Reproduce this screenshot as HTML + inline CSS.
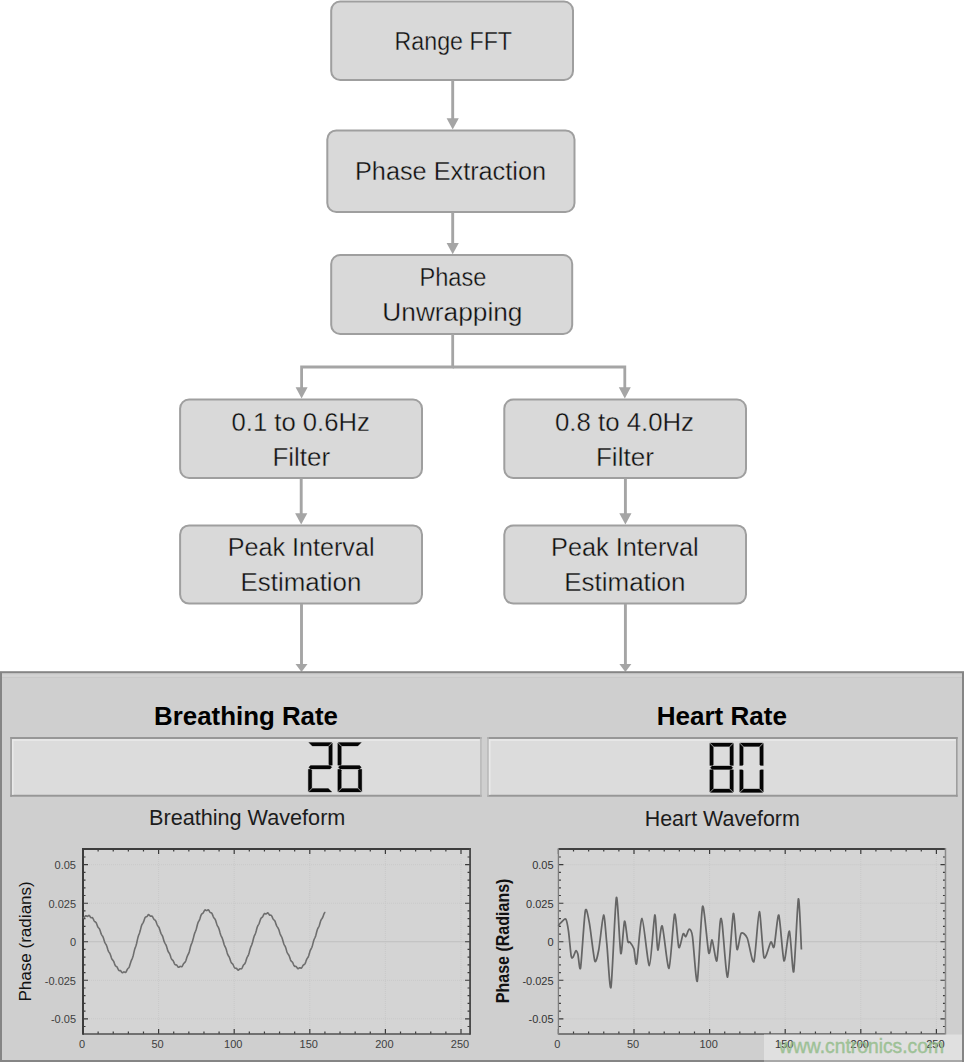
<!DOCTYPE html>
<html><head><meta charset="utf-8"><style>
html,body{margin:0;padding:0;background:#fff;width:964px;height:1062px;overflow:hidden}
svg{display:block;font-family:"Liberation Sans", sans-serif}
</style></head><body>
<svg width="964" height="1062" viewBox="0 0 964 1062">
<rect x="331.2" y="1.5" width="241.8" height="78.5" rx="9" ry="9" fill="#d9d9d9" stroke="#9f9f9f" stroke-width="2"/>
<text x="453.3" y="49.7" font-size="25" font-weight="normal" fill="#111" text-anchor="middle" textLength="117.4" lengthAdjust="spacingAndGlyphs" stroke="#d9d9d9" stroke-width="0.35">Range FFT</text>
<line x1="452.7" y1="80.5" x2="452.7" y2="119.3" stroke="#a5a5a5" stroke-width="2.9"/>
<polygon points="446.59999999999997,118.3 458.8,118.3 452.7,129.5" fill="#a5a5a5"/>
<rect x="327.3" y="130.4" width="247.2" height="81.6" rx="9" ry="9" fill="#d9d9d9" stroke="#9f9f9f" stroke-width="2"/>
<text x="450.5" y="180" font-size="25" font-weight="normal" fill="#111" text-anchor="middle" textLength="191" lengthAdjust="spacingAndGlyphs" stroke="#d9d9d9" stroke-width="0.35">Phase Extraction</text>
<line x1="452.7" y1="212.5" x2="452.7" y2="244.0" stroke="#a5a5a5" stroke-width="2.9"/>
<polygon points="446.59999999999997,243.0 458.8,243.0 452.7,254.2" fill="#a5a5a5"/>
<rect x="331.2" y="255" width="241.00000000000006" height="79" rx="9" ry="9" fill="#d9d9d9" stroke="#9f9f9f" stroke-width="2"/>
<text x="452.9" y="286" font-size="25" font-weight="normal" fill="#111" text-anchor="middle" textLength="67" lengthAdjust="spacingAndGlyphs" stroke="#d9d9d9" stroke-width="0.35">Phase</text>
<text x="452.4" y="320.6" font-size="25" font-weight="normal" fill="#111" text-anchor="middle" textLength="140.2" lengthAdjust="spacingAndGlyphs" stroke="#d9d9d9" stroke-width="0.35">Unwrapping</text>
<polyline points="452.7,334 452.7,367 301.6,367 301.6,388" fill="none" stroke="#a5a5a5" stroke-width="2.8"/>
<polyline points="452.7,367 624.8,367 624.8,388" fill="none" stroke="#a5a5a5" stroke-width="2.8"/>
<polygon points="295.6,387.2 307.6,387.2 301.6,398.6" fill="#a5a5a5"/>
<polygon points="618.8,387.2 630.8,387.2 624.8,398.6" fill="#a5a5a5"/>
<rect x="180.1" y="399.5" width="241.9" height="78.5" rx="9" ry="9" fill="#d9d9d9" stroke="#9f9f9f" stroke-width="2"/>
<text x="300.7" y="431.2" font-size="25" font-weight="normal" fill="#111" text-anchor="middle" textLength="138.4" lengthAdjust="spacingAndGlyphs" stroke="#d9d9d9" stroke-width="0.35">0.1 to 0.6Hz</text>
<text x="301.3" y="465.6" font-size="25" font-weight="normal" fill="#111" text-anchor="middle" textLength="57.7" lengthAdjust="spacingAndGlyphs" stroke="#d9d9d9" stroke-width="0.35">Filter</text>
<rect x="504.3" y="399.5" width="241.7" height="78.5" rx="9" ry="9" fill="#d9d9d9" stroke="#9f9f9f" stroke-width="2"/>
<text x="624.5" y="431.2" font-size="25" font-weight="normal" fill="#111" text-anchor="middle" textLength="139" lengthAdjust="spacingAndGlyphs" stroke="#d9d9d9" stroke-width="0.35">0.8 to 4.0Hz</text>
<text x="624.9" y="465.6" font-size="25" font-weight="normal" fill="#111" text-anchor="middle" textLength="58" lengthAdjust="spacingAndGlyphs" stroke="#d9d9d9" stroke-width="0.35">Filter</text>
<line x1="301.2" y1="478.5" x2="301.2" y2="514.1999999999999" stroke="#a5a5a5" stroke-width="2.9"/>
<polygon points="295.09999999999997,513.1999999999999 307.3,513.1999999999999 301.2,524.4" fill="#a5a5a5"/>
<line x1="625.4" y1="478.5" x2="625.4" y2="514.1999999999999" stroke="#a5a5a5" stroke-width="2.9"/>
<polygon points="619.3,513.1999999999999 631.5,513.1999999999999 625.4,524.4" fill="#a5a5a5"/>
<rect x="180.1" y="525.4" width="241.9" height="78.20000000000005" rx="9" ry="9" fill="#d9d9d9" stroke="#9f9f9f" stroke-width="2"/>
<text x="301.1" y="555.9" font-size="25" font-weight="normal" fill="#111" text-anchor="middle" textLength="146.9" lengthAdjust="spacingAndGlyphs" stroke="#d9d9d9" stroke-width="0.35">Peak Interval</text>
<text x="301" y="590.6" font-size="25" font-weight="normal" fill="#111" text-anchor="middle" textLength="120.8" lengthAdjust="spacingAndGlyphs" stroke="#d9d9d9" stroke-width="0.35">Estimation</text>
<rect x="504.3" y="525.4" width="241.7" height="78.20000000000005" rx="9" ry="9" fill="#d9d9d9" stroke="#9f9f9f" stroke-width="2"/>
<text x="624.85" y="555.9" font-size="25" font-weight="normal" fill="#111" text-anchor="middle" textLength="147.7" lengthAdjust="spacingAndGlyphs" stroke="#d9d9d9" stroke-width="0.35">Peak Interval</text>
<text x="624.85" y="590.6" font-size="25" font-weight="normal" fill="#111" text-anchor="middle" textLength="121.3" lengthAdjust="spacingAndGlyphs" stroke="#d9d9d9" stroke-width="0.35">Estimation</text>
<line x1="301.5" y1="604" x2="301.5" y2="665" stroke="#a5a5a5" stroke-width="2.9"/>
<polygon points="295.5,664 307.5,664 301.5,672" fill="#a5a5a5"/>
<line x1="625.4" y1="604" x2="625.4" y2="665" stroke="#a5a5a5" stroke-width="2.9"/>
<polygon points="619.4,664 631.4,664 625.4,672" fill="#a5a5a5"/>
<rect x="1" y="672.2" width="962" height="388.8" fill="#cfcfcf" stroke="#858585" stroke-width="2"/>
<line x1="2" y1="676" x2="962" y2="676" stroke="#d6d6d6" stroke-width="1"/>
<line x1="2" y1="677.5" x2="962" y2="677.5" stroke="#c8c8c8" stroke-width="1"/>
<text x="246" y="724.8" font-size="26" font-weight="bold" fill="#000" text-anchor="middle" textLength="184" lengthAdjust="spacingAndGlyphs">Breathing Rate</text>
<text x="721.8" y="724.9" font-size="26" font-weight="bold" fill="#000" text-anchor="middle" textLength="130.3" lengthAdjust="spacingAndGlyphs">Heart Rate</text>
<rect x="10.3" y="737" width="471.4" height="59.700000000000045" fill="#dcdcdc"/>
<line x1="10.3" y1="738" x2="481.7" y2="738" stroke="#979797" stroke-width="2"/>
<line x1="10.3" y1="795.7" x2="481.7" y2="795.7" stroke="#979797" stroke-width="2"/>
<line x1="11.05" y1="737" x2="11.05" y2="796.7" stroke="#979797" stroke-width="1.5"/>
<line x1="480.95" y1="737" x2="480.95" y2="796.7" stroke="#b6b6b6" stroke-width="1.5"/>
<path d="M12.8,794.7 V740 H479.7" fill="none" stroke="#eaeaea" stroke-width="1.5"/>
<rect x="487.2" y="737" width="470.40000000000003" height="59.700000000000045" fill="#dcdcdc"/>
<line x1="487.2" y1="738" x2="957.6" y2="738" stroke="#979797" stroke-width="2"/>
<line x1="487.2" y1="795.7" x2="957.6" y2="795.7" stroke="#979797" stroke-width="2"/>
<line x1="487.95" y1="737" x2="487.95" y2="796.7" stroke="#b6b6b6" stroke-width="1.5"/>
<line x1="956.85" y1="737" x2="956.85" y2="796.7" stroke="#979797" stroke-width="1.5"/>
<path d="M489.7,794.7 V740 H955.6" fill="none" stroke="#eaeaea" stroke-width="1.5"/>
<polygon points="308.80,742.50 331.80,742.50 328.30,746.00 312.30,746.00" fill="#050505" stroke="#050505" stroke-width="0.3" stroke-linejoin="round"/>
<polygon points="312.30,788.50 328.30,788.50 331.80,792.00 308.80,792.00" fill="#050505" stroke="#050505" stroke-width="0.3" stroke-linejoin="round"/>
<polygon points="308.80,767.25 310.55,765.50 330.05,765.50 331.80,767.25 330.05,769.00 310.55,769.00" fill="#050505" stroke="#050505" stroke-width="0.3" stroke-linejoin="round"/>
<polygon points="332.30,743.00 328.80,746.50 328.80,764.35 329.60,765.15 332.30,765.15" fill="#050505" stroke="#050505" stroke-width="0.3" stroke-linejoin="round"/>
<polygon points="308.30,791.50 311.80,788.00 311.80,770.15 311.00,769.35 308.30,769.35" fill="#050505" stroke="#050505" stroke-width="0.3" stroke-linejoin="round"/>
<polygon points="338.30,742.50 361.30,742.50 357.80,746.00 341.80,746.00" fill="#050505" stroke="#050505" stroke-width="0.3" stroke-linejoin="round"/>
<polygon points="341.80,788.50 357.80,788.50 361.30,792.00 338.30,792.00" fill="#050505" stroke="#050505" stroke-width="0.3" stroke-linejoin="round"/>
<polygon points="338.30,767.25 340.05,765.50 359.55,765.50 361.30,767.25 359.55,769.00 340.05,769.00" fill="#050505" stroke="#050505" stroke-width="0.3" stroke-linejoin="round"/>
<polygon points="337.80,743.00 341.30,746.50 341.30,764.35 340.50,765.15 337.80,765.15" fill="#050505" stroke="#050505" stroke-width="0.3" stroke-linejoin="round"/>
<polygon points="337.80,791.50 341.30,788.00 341.30,770.15 340.50,769.35 337.80,769.35" fill="#050505" stroke="#050505" stroke-width="0.3" stroke-linejoin="round"/>
<polygon points="361.80,791.50 358.30,788.00 358.30,770.15 359.10,769.35 361.80,769.35" fill="#050505" stroke="#050505" stroke-width="0.3" stroke-linejoin="round"/>
<polygon points="710.30,742.90 732.90,742.90 729.40,746.40 713.80,746.40" fill="#050505" stroke="#050505" stroke-width="0.3" stroke-linejoin="round"/>
<polygon points="713.80,788.90 729.40,788.90 732.90,792.40 710.30,792.40" fill="#050505" stroke="#050505" stroke-width="0.3" stroke-linejoin="round"/>
<polygon points="710.30,767.65 712.05,765.90 731.15,765.90 732.90,767.65 731.15,769.40 712.05,769.40" fill="#050505" stroke="#050505" stroke-width="0.3" stroke-linejoin="round"/>
<polygon points="709.80,743.40 713.30,746.90 713.30,764.75 712.50,765.55 709.80,765.55" fill="#050505" stroke="#050505" stroke-width="0.3" stroke-linejoin="round"/>
<polygon points="733.40,743.40 729.90,746.90 729.90,764.75 730.70,765.55 733.40,765.55" fill="#050505" stroke="#050505" stroke-width="0.3" stroke-linejoin="round"/>
<polygon points="709.80,791.90 713.30,788.40 713.30,770.55 712.50,769.75 709.80,769.75" fill="#050505" stroke="#050505" stroke-width="0.3" stroke-linejoin="round"/>
<polygon points="733.40,791.90 729.90,788.40 729.90,770.55 730.70,769.75 733.40,769.75" fill="#050505" stroke="#050505" stroke-width="0.3" stroke-linejoin="round"/>
<polygon points="740.20,742.90 762.80,742.90 759.30,746.40 743.70,746.40" fill="#050505" stroke="#050505" stroke-width="0.3" stroke-linejoin="round"/>
<polygon points="743.70,788.90 759.30,788.90 762.80,792.40 740.20,792.40" fill="#050505" stroke="#050505" stroke-width="0.3" stroke-linejoin="round"/>
<polygon points="739.70,743.40 743.20,746.90 743.20,764.75 742.40,765.55 739.70,765.55" fill="#050505" stroke="#050505" stroke-width="0.3" stroke-linejoin="round"/>
<polygon points="763.30,743.40 759.80,746.90 759.80,764.75 760.60,765.55 763.30,765.55" fill="#050505" stroke="#050505" stroke-width="0.3" stroke-linejoin="round"/>
<polygon points="739.70,791.90 743.20,788.40 743.20,770.55 742.40,769.75 739.70,769.75" fill="#050505" stroke="#050505" stroke-width="0.3" stroke-linejoin="round"/>
<polygon points="763.30,791.90 759.80,788.40 759.80,770.55 760.60,769.75 763.30,769.75" fill="#050505" stroke="#050505" stroke-width="0.3" stroke-linejoin="round"/>
<text x="247.2" y="825.1" font-size="21.3" font-weight="normal" fill="#1c1c1c" text-anchor="middle" textLength="196.3" lengthAdjust="spacingAndGlyphs">Breathing Waveform</text>
<text x="722.3" y="825.6" font-size="21.3" font-weight="normal" fill="#1c1c1c" text-anchor="middle" textLength="155.1" lengthAdjust="spacingAndGlyphs">Heart Waveform</text>
<rect x="83" y="849" width="387.07199999999995" height="185" fill="#d4d4d4"/>
<line x1="158.60" y1="849" x2="158.60" y2="1034" stroke="#c9c9c9" stroke-width="1" stroke-dasharray="1,1"/>
<line x1="234.20" y1="849" x2="234.20" y2="1034" stroke="#c9c9c9" stroke-width="1" stroke-dasharray="1,1"/>
<line x1="309.80" y1="849" x2="309.80" y2="1034" stroke="#c9c9c9" stroke-width="1" stroke-dasharray="1,1"/>
<line x1="385.40" y1="849" x2="385.40" y2="1034" stroke="#c9c9c9" stroke-width="1" stroke-dasharray="1,1"/>
<line x1="461.00" y1="849" x2="461.00" y2="1034" stroke="#c9c9c9" stroke-width="1" stroke-dasharray="1,1"/>
<line x1="83" y1="864.70" x2="470.07199999999995" y2="864.70" stroke="#c9c9c9" stroke-width="1" stroke-dasharray="1,1"/>
<line x1="83" y1="903.23" x2="470.07199999999995" y2="903.23" stroke="#c9c9c9" stroke-width="1" stroke-dasharray="1,1"/>
<line x1="83" y1="980.27" x2="470.07199999999995" y2="980.27" stroke="#c9c9c9" stroke-width="1" stroke-dasharray="1,1"/>
<line x1="83" y1="1018.80" x2="470.07199999999995" y2="1018.80" stroke="#c9c9c9" stroke-width="1" stroke-dasharray="1,1"/>
<line x1="83" y1="941.75" x2="470.07199999999995" y2="941.75" stroke="#bfbfbf" stroke-width="1"/>
<path d="M83.00,1034 v-5 M83.00,849 v5 M98.12,1034 v-2.5 M98.12,849 v2.5 M113.24,1034 v-2.5 M113.24,849 v2.5 M128.36,1034 v-2.5 M128.36,849 v2.5 M143.48,1034 v-2.5 M143.48,849 v2.5 M158.60,1034 v-5 M158.60,849 v5 M173.72,1034 v-2.5 M173.72,849 v2.5 M188.84,1034 v-2.5 M188.84,849 v2.5 M203.96,1034 v-2.5 M203.96,849 v2.5 M219.08,1034 v-2.5 M219.08,849 v2.5 M234.20,1034 v-5 M234.20,849 v5 M249.32,1034 v-2.5 M249.32,849 v2.5 M264.44,1034 v-2.5 M264.44,849 v2.5 M279.56,1034 v-2.5 M279.56,849 v2.5 M294.68,1034 v-2.5 M294.68,849 v2.5 M309.80,1034 v-5 M309.80,849 v5 M324.92,1034 v-2.5 M324.92,849 v2.5 M340.04,1034 v-2.5 M340.04,849 v2.5 M355.16,1034 v-2.5 M355.16,849 v2.5 M370.28,1034 v-2.5 M370.28,849 v2.5 M385.40,1034 v-5 M385.40,849 v5 M400.52,1034 v-2.5 M400.52,849 v2.5 M415.64,1034 v-2.5 M415.64,849 v2.5 M430.76,1034 v-2.5 M430.76,849 v2.5 M445.88,1034 v-2.5 M445.88,849 v2.5 M461.00,1034 v-5 M461.00,849 v5 M83,1026.51 h2.5 M470.07199999999995,1026.51 h-2.5 M83,1018.80 h5 M470.07199999999995,1018.80 h-5 M83,1011.10 h2.5 M470.07199999999995,1011.10 h-2.5 M83,1003.39 h2.5 M470.07199999999995,1003.39 h-2.5 M83,995.68 h2.5 M470.07199999999995,995.68 h-2.5 M83,987.98 h2.5 M470.07199999999995,987.98 h-2.5 M83,980.27 h5 M470.07199999999995,980.27 h-5 M83,972.57 h2.5 M470.07199999999995,972.57 h-2.5 M83,964.87 h2.5 M470.07199999999995,964.87 h-2.5 M83,957.16 h2.5 M470.07199999999995,957.16 h-2.5 M83,949.46 h2.5 M470.07199999999995,949.46 h-2.5 M83,941.75 h5 M470.07199999999995,941.75 h-5 M83,934.04 h2.5 M470.07199999999995,934.04 h-2.5 M83,926.34 h2.5 M470.07199999999995,926.34 h-2.5 M83,918.63 h2.5 M470.07199999999995,918.63 h-2.5 M83,910.93 h2.5 M470.07199999999995,910.93 h-2.5 M83,903.23 h5 M470.07199999999995,903.23 h-5 M83,895.52 h2.5 M470.07199999999995,895.52 h-2.5 M83,887.82 h2.5 M470.07199999999995,887.82 h-2.5 M83,880.11 h2.5 M470.07199999999995,880.11 h-2.5 M83,872.40 h2.5 M470.07199999999995,872.40 h-2.5 M83,864.70 h5 M470.07199999999995,864.70 h-5 M83,857.00 h2.5 M470.07199999999995,857.00 h-2.5" stroke="#3a3a3a" stroke-width="1.2" fill="none"/>
<line x1="83" y1="849" x2="470.07199999999995" y2="849" stroke="#3c3c3c" stroke-width="2"/>
<line x1="83" y1="1034" x2="470.07199999999995" y2="1034" stroke="#505050" stroke-width="1.6"/>
<line x1="83" y1="848" x2="83" y2="1034.75" stroke="#3c3c3c" stroke-width="2"/>
<line x1="470.07199999999995" y1="848" x2="470.07199999999995" y2="1034.75" stroke="#474747" stroke-width="1.8"/>
<text x="76" y="869.00" font-size="11" fill="#404040" text-anchor="end">0.05</text>
<text x="76" y="907.52" font-size="11" fill="#404040" text-anchor="end">0.025</text>
<text x="76" y="946.05" font-size="11" fill="#404040" text-anchor="end">0</text>
<text x="76" y="984.57" font-size="11" fill="#404040" text-anchor="end">-0.025</text>
<text x="76" y="1023.10" font-size="11" fill="#404040" text-anchor="end">-0.05</text>
<text x="82.00" y="1048.4" font-size="11" fill="#404040" text-anchor="middle">0</text>
<text x="157.60" y="1048.4" font-size="11" fill="#404040" text-anchor="middle">50</text>
<text x="233.20" y="1048.4" font-size="11" fill="#404040" text-anchor="middle">100</text>
<text x="308.80" y="1048.4" font-size="11" fill="#404040" text-anchor="middle">150</text>
<text x="384.40" y="1048.4" font-size="11" fill="#404040" text-anchor="middle">200</text>
<text x="460.00" y="1048.4" font-size="11" fill="#404040" text-anchor="middle">250</text>
<text transform="translate(31,941.4) rotate(-90)" x="0" y="0" font-size="16.5" font-weight="normal" fill="#111" text-anchor="middle" textLength="120.4" lengthAdjust="spacingAndGlyphs">Phase (radians)</text>
<polyline points="83.0,917.3 83.5,917.7 84.0,917.7 84.5,917.2 85.0,916.4 85.5,915.8 86.0,915.7 86.5,916.0 87.0,916.3 87.5,916.4 88.0,916.1 88.5,915.6 89.0,915.4 89.5,915.8 90.0,916.5 90.5,917.2 91.0,917.7 91.5,917.7 92.0,917.6 92.5,917.8 93.0,918.5 93.5,919.5 94.0,920.6 94.5,921.4 95.0,921.7 95.5,922.0 96.0,922.5 96.5,923.4 97.0,924.8 97.5,926.2 98.0,927.2 98.5,927.8 99.0,928.3 99.5,929.0 100.0,930.2 100.5,931.8 101.0,933.4 101.5,934.6 102.0,935.4 102.5,936.0 103.0,936.9 103.5,938.3 104.0,940.0 104.5,941.6 105.0,942.9 105.5,943.7 106.0,944.4 106.5,945.4 107.0,946.8 107.5,948.5 108.0,950.1 108.5,951.4 109.0,952.2 109.5,952.8 110.0,953.7 110.5,955.0 111.0,956.6 111.5,958.1 112.0,959.2 112.5,959.9 113.0,960.4 113.5,961.1 114.0,962.2 114.5,963.6 115.0,964.9 115.5,965.8 116.0,966.2 116.5,966.5 117.0,966.9 117.5,967.8 118.0,968.9 118.5,969.9 119.0,970.5 119.5,970.6 120.0,970.5 120.5,970.6 121.0,971.2 121.5,972.0 122.0,972.6 122.5,972.8 123.0,972.5 123.5,972.1 124.0,971.9 124.5,972.1 125.0,972.4 125.5,972.5 126.0,972.1 126.5,971.2 127.0,970.0 127.5,969.1 128.0,968.4 128.5,968.0 129.0,967.4 129.5,966.2 130.0,964.6 130.6,962.7 131.1,961.1 131.6,959.9 132.1,958.8 132.6,957.6 133.1,956.0 133.6,953.9 134.1,951.6 134.6,949.6 135.1,948.1 135.6,946.8 136.1,945.3 136.6,943.5 137.1,941.2 137.6,938.9 138.1,936.9 138.6,935.3 139.1,934.1 139.6,932.8 140.1,931.1 140.6,929.1 141.1,927.1 141.6,925.4 142.1,924.2 142.7,923.4 143.2,922.6 143.7,921.4 144.2,919.9 144.7,918.5 145.2,917.4 145.7,917.0 146.2,916.8 146.7,916.7 147.2,916.2 147.7,915.5 148.2,914.8 148.7,914.6 149.2,914.9 149.7,915.5 150.2,916.1 150.7,916.2 151.2,916.1 151.7,916.0 152.2,916.2 152.7,917.0 153.2,918.0 153.7,919.0 154.2,919.6 154.7,919.9 155.2,920.2 155.7,920.9 156.2,922.0 156.7,923.5 157.2,924.8 157.7,925.7 158.2,926.4 158.7,927.0 159.2,927.9 159.7,929.4 160.2,931.1 160.7,932.7 161.2,933.8 161.7,934.7 162.2,935.4 162.7,936.6 163.2,938.2 163.7,940.0 164.2,941.7 164.8,942.9 165.3,943.8 165.8,944.6 166.3,945.7 166.8,947.3 167.3,949.1 167.8,950.7 168.3,951.8 168.8,952.5 169.3,953.2 169.8,954.2 170.3,955.6 170.8,957.2 171.3,958.6 171.8,959.4 172.3,959.9 172.8,960.3 173.3,961.0 173.8,962.1 174.3,963.3 174.8,964.3 175.3,964.8 175.8,964.9 176.3,964.9 176.8,965.2 177.3,965.9 177.8,966.7 178.3,967.3 178.8,967.3 179.3,967.0 179.8,966.5 180.3,966.4 180.8,966.6 181.3,966.8 181.8,966.8 182.3,966.2 182.8,965.2 183.3,964.1 183.8,963.3 184.4,962.8 184.9,962.4 185.4,961.7 185.9,960.5 186.4,958.9 186.9,957.3 187.4,955.9 187.9,954.9 188.4,954.0 188.9,952.9 189.4,951.2 189.9,949.2 190.4,947.1 190.9,945.4 191.4,944.1 191.9,943.0 192.4,941.6 192.9,939.8 193.5,937.6 194.0,935.5 194.5,933.7 195.0,932.4 195.5,931.3 196.0,930.0 196.5,928.2 197.0,926.2 197.5,924.2 198.0,922.7 198.5,921.7 199.0,920.9 199.5,919.9 200.0,918.5 200.5,916.8 201.0,915.3 201.5,914.3 202.0,913.8 202.6,913.5 203.1,913.0 203.6,912.2 204.1,911.2 204.6,910.3 205.1,909.9 205.6,910.0 206.1,910.4 206.6,910.6 207.1,910.4 207.6,910.1 208.1,909.8 208.6,910.0 209.1,910.7 209.6,911.6 210.1,912.3 210.6,912.7 211.1,912.8 211.6,913.0 212.1,913.7 212.6,914.9 213.1,916.2 213.6,917.4 214.1,918.1 214.6,918.6 215.1,919.3 215.6,920.3 216.1,921.9 216.6,923.6 217.1,925.1 217.6,926.1 218.1,926.9 218.6,927.9 219.1,929.2 219.6,931.0 220.1,932.9 220.6,934.6 221.1,935.8 221.6,936.8 222.1,937.8 222.6,939.3 223.2,941.1 223.7,943.1 224.2,944.8 224.7,946.0 225.2,946.9 225.7,947.9 226.2,949.3 226.7,951.1 227.2,952.9 227.7,954.4 228.2,955.5 228.7,956.2 229.2,957.0 229.7,958.2 230.2,959.7 230.7,961.3 231.2,962.5 231.7,963.2 232.2,963.6 232.7,964.0 233.2,964.8 233.7,966.0 234.2,967.1 234.7,967.9 235.2,968.2 235.7,968.2 236.2,968.2 236.7,968.5 237.2,969.2 237.7,969.9 238.2,970.2 238.7,969.9 239.2,969.4 239.7,968.9 240.2,968.7 240.7,968.8 241.2,968.9 241.7,968.6 242.2,967.8 242.7,966.6 243.2,965.5 243.7,964.8 244.2,964.3 244.7,963.9 245.2,963.0 245.7,961.7 246.2,960.0 246.7,958.4 247.2,957.2 247.7,956.4 248.2,955.5 248.7,954.3 249.2,952.5 249.7,950.5 250.2,948.7 250.7,947.2 251.2,946.1 251.7,945.0 252.2,943.6 252.7,941.8 253.2,939.7 253.7,937.7 254.2,936.2 254.7,935.1 255.2,934.1 255.7,932.7 256.2,931.0 256.7,929.0 257.2,927.3 257.7,926.0 258.2,925.1 258.7,924.3 259.2,923.3 259.7,921.8 260.2,920.2 260.7,918.9 261.2,918.0 261.7,917.6 262.2,917.3 262.7,916.7 263.2,915.7 263.7,914.6 264.2,913.8 264.7,913.5 265.2,913.7 265.7,913.9 266.2,913.9 266.7,913.6 267.2,913.1 267.7,912.8 268.2,913.1 268.7,913.8 269.2,914.6 269.7,915.1 270.2,915.2 270.8,915.1 271.3,915.4 271.8,916.1 272.3,917.2 272.8,918.4 273.3,919.3 273.8,919.8 274.3,920.2 274.8,920.8 275.3,921.9 275.8,923.4 276.3,924.9 276.8,926.1 277.3,926.9 277.8,927.6 278.3,928.5 278.9,929.8 279.4,931.6 279.9,933.3 280.4,934.7 280.9,935.7 281.4,936.5 281.9,937.5 282.4,939.0 282.9,940.8 283.4,942.6 283.9,944.1 284.4,945.1 284.9,945.9 285.4,946.9 285.9,948.3 286.4,950.1 286.9,951.8 287.5,953.1 288.0,954.0 288.5,954.6 289.0,955.5 289.5,956.7 290.0,958.3 290.5,959.8 291.0,960.8 291.5,961.4 292.0,961.7 292.5,962.3 293.0,963.2 293.5,964.5 294.0,965.6 294.5,966.2 295.1,966.4 295.6,966.4 296.1,966.5 296.6,967.1 297.1,967.8 297.6,968.5 298.1,968.7 298.6,968.5 299.1,968.0 299.6,967.7 300.1,967.7 300.6,968.0 301.1,968.2 301.6,967.9 302.1,967.1 302.6,966.1 303.2,965.2 303.7,964.8 304.2,964.5 304.7,964.2 305.2,963.4 305.7,962.1 306.2,960.6 306.7,959.3 307.2,958.4 307.7,957.7 308.2,957.0 308.7,955.8 309.2,954.1 309.7,952.2 310.2,950.6 310.8,949.4 311.3,948.5 311.8,947.5 312.3,946.0 312.8,944.1 313.3,942.1 313.8,940.3 314.3,939.0 314.8,938.0 315.3,936.9 315.8,935.4 316.3,933.5 316.8,931.5 317.3,929.8 317.8,928.5 318.3,927.6 318.9,926.6 319.4,925.3 319.9,923.5 320.4,921.7 320.9,920.3 321.4,919.3 321.9,918.7 322.4,918.0 322.9,916.9 323.4,915.5 323.9,914.1 324.4,913.0 324.9,912.5 325.4,912.3" fill="none" stroke="#6e6e6e" stroke-width="1.6" stroke-linejoin="round"/>
<rect x="558.4" y="849" width="387.072" height="185" fill="#d4d4d4"/>
<line x1="634.00" y1="849" x2="634.00" y2="1034" stroke="#c9c9c9" stroke-width="1" stroke-dasharray="1,1"/>
<line x1="709.60" y1="849" x2="709.60" y2="1034" stroke="#c9c9c9" stroke-width="1" stroke-dasharray="1,1"/>
<line x1="785.20" y1="849" x2="785.20" y2="1034" stroke="#c9c9c9" stroke-width="1" stroke-dasharray="1,1"/>
<line x1="860.80" y1="849" x2="860.80" y2="1034" stroke="#c9c9c9" stroke-width="1" stroke-dasharray="1,1"/>
<line x1="936.40" y1="849" x2="936.40" y2="1034" stroke="#c9c9c9" stroke-width="1" stroke-dasharray="1,1"/>
<line x1="558.4" y1="864.70" x2="945.472" y2="864.70" stroke="#c9c9c9" stroke-width="1" stroke-dasharray="1,1"/>
<line x1="558.4" y1="903.23" x2="945.472" y2="903.23" stroke="#c9c9c9" stroke-width="1" stroke-dasharray="1,1"/>
<line x1="558.4" y1="980.27" x2="945.472" y2="980.27" stroke="#c9c9c9" stroke-width="1" stroke-dasharray="1,1"/>
<line x1="558.4" y1="1018.80" x2="945.472" y2="1018.80" stroke="#c9c9c9" stroke-width="1" stroke-dasharray="1,1"/>
<line x1="558.4" y1="941.75" x2="945.472" y2="941.75" stroke="#bfbfbf" stroke-width="1"/>
<path d="M558.40,1034 v-5 M558.40,849 v5 M573.52,1034 v-2.5 M573.52,849 v2.5 M588.64,1034 v-2.5 M588.64,849 v2.5 M603.76,1034 v-2.5 M603.76,849 v2.5 M618.88,1034 v-2.5 M618.88,849 v2.5 M634.00,1034 v-5 M634.00,849 v5 M649.12,1034 v-2.5 M649.12,849 v2.5 M664.24,1034 v-2.5 M664.24,849 v2.5 M679.36,1034 v-2.5 M679.36,849 v2.5 M694.48,1034 v-2.5 M694.48,849 v2.5 M709.60,1034 v-5 M709.60,849 v5 M724.72,1034 v-2.5 M724.72,849 v2.5 M739.84,1034 v-2.5 M739.84,849 v2.5 M754.96,1034 v-2.5 M754.96,849 v2.5 M770.08,1034 v-2.5 M770.08,849 v2.5 M785.20,1034 v-5 M785.20,849 v5 M800.32,1034 v-2.5 M800.32,849 v2.5 M815.44,1034 v-2.5 M815.44,849 v2.5 M830.56,1034 v-2.5 M830.56,849 v2.5 M845.68,1034 v-2.5 M845.68,849 v2.5 M860.80,1034 v-5 M860.80,849 v5 M875.92,1034 v-2.5 M875.92,849 v2.5 M891.04,1034 v-2.5 M891.04,849 v2.5 M906.16,1034 v-2.5 M906.16,849 v2.5 M921.28,1034 v-2.5 M921.28,849 v2.5 M936.40,1034 v-5 M936.40,849 v5 M558.4,1026.51 h2.5 M945.472,1026.51 h-2.5 M558.4,1018.80 h5 M945.472,1018.80 h-5 M558.4,1011.10 h2.5 M945.472,1011.10 h-2.5 M558.4,1003.39 h2.5 M945.472,1003.39 h-2.5 M558.4,995.68 h2.5 M945.472,995.68 h-2.5 M558.4,987.98 h2.5 M945.472,987.98 h-2.5 M558.4,980.27 h5 M945.472,980.27 h-5 M558.4,972.57 h2.5 M945.472,972.57 h-2.5 M558.4,964.87 h2.5 M945.472,964.87 h-2.5 M558.4,957.16 h2.5 M945.472,957.16 h-2.5 M558.4,949.46 h2.5 M945.472,949.46 h-2.5 M558.4,941.75 h5 M945.472,941.75 h-5 M558.4,934.04 h2.5 M945.472,934.04 h-2.5 M558.4,926.34 h2.5 M945.472,926.34 h-2.5 M558.4,918.63 h2.5 M945.472,918.63 h-2.5 M558.4,910.93 h2.5 M945.472,910.93 h-2.5 M558.4,903.23 h5 M945.472,903.23 h-5 M558.4,895.52 h2.5 M945.472,895.52 h-2.5 M558.4,887.82 h2.5 M945.472,887.82 h-2.5 M558.4,880.11 h2.5 M945.472,880.11 h-2.5 M558.4,872.40 h2.5 M945.472,872.40 h-2.5 M558.4,864.70 h5 M945.472,864.70 h-5 M558.4,857.00 h2.5 M945.472,857.00 h-2.5" stroke="#3a3a3a" stroke-width="1.2" fill="none"/>
<line x1="558.4" y1="849" x2="945.472" y2="849" stroke="#404040" stroke-width="2"/>
<line x1="558.4" y1="1034" x2="945.472" y2="1034" stroke="#5c5c5c" stroke-width="1.5"/>
<line x1="558.4" y1="848" x2="558.4" y2="1034.75" stroke="#7e7e7e" stroke-width="1.3"/>
<line x1="945.472" y1="848" x2="945.472" y2="1034.75" stroke="#8a8a8a" stroke-width="1.5"/>
<text x="553.6" y="869.00" font-size="11" fill="#333333" text-anchor="end">0.05</text>
<text x="553.6" y="907.52" font-size="11" fill="#333333" text-anchor="end">0.025</text>
<text x="553.6" y="946.05" font-size="11" fill="#333333" text-anchor="end">0</text>
<text x="553.6" y="984.57" font-size="11" fill="#333333" text-anchor="end">-0.025</text>
<text x="553.6" y="1023.10" font-size="11" fill="#333333" text-anchor="end">-0.05</text>
<text x="557.40" y="1048.4" font-size="11" fill="#404040" text-anchor="middle">0</text>
<text x="633.00" y="1048.4" font-size="11" fill="#404040" text-anchor="middle">50</text>
<text x="708.60" y="1048.4" font-size="11" fill="#404040" text-anchor="middle">100</text>
<text x="784.20" y="1048.4" font-size="11" fill="#404040" text-anchor="middle">150</text>
<text x="859.80" y="1048.4" font-size="11" fill="#404040" text-anchor="middle">200</text>
<text x="935.40" y="1048.4" font-size="11" fill="#404040" text-anchor="middle">250</text>
<text transform="translate(508.6,940.9) rotate(-90)" x="0" y="0" font-size="17.6" font-weight="bold" fill="#111" text-anchor="middle" textLength="124.6" lengthAdjust="spacingAndGlyphs">Phase (Radians)</text>
<path d="M558.40,925.90 C558.65,925.56 559.48,924.05 560.40,923.20 C561.32,922.35 564.79,918.10 565.80,919.10 C566.81,920.10 567.83,926.56 568.50,931.20 C569.17,935.84 570.61,952.99 571.20,956.20 C571.79,959.41 572.61,957.58 573.20,956.90 C573.79,956.22 575.31,951.14 575.90,950.80 C576.49,950.46 577.31,952.09 577.90,954.20 C578.49,956.31 579.68,973.10 580.60,967.70 C581.52,962.30 584.20,916.56 585.30,911.00 C586.40,905.44 588.21,916.96 589.40,923.20 C590.59,929.44 593.62,957.61 594.80,960.90 C595.97,964.19 597.70,955.23 598.80,949.50 C599.90,943.77 602.59,915.70 603.60,915.10 C604.61,914.50 605.98,935.69 606.90,944.70 C607.82,953.71 609.81,993.10 611.00,987.20 C612.19,981.30 615.17,901.71 616.40,897.50 C617.62,893.29 619.79,950.55 620.80,953.50 C621.81,956.45 623.62,922.61 624.50,921.10 C625.38,919.59 627.14,938.79 627.80,941.40 C628.46,944.01 629.04,941.08 629.80,942.00 C630.56,942.92 633.05,946.10 633.90,948.80 C634.75,951.50 635.59,967.40 636.60,963.60 C637.61,959.80 640.40,918.15 642.00,918.40 C643.60,918.65 647.80,966.01 649.40,965.60 C651.00,965.19 653.75,917.04 654.80,915.10 C655.85,913.16 656.88,948.75 657.80,950.10 C658.72,951.45 660.80,923.62 662.20,925.90 C663.60,928.17 667.45,969.76 669.00,968.30 C670.55,966.84 673.38,916.81 674.60,914.20 C675.83,911.59 677.74,944.94 678.80,947.40 C679.86,949.86 682.23,935.25 683.10,933.90 C683.98,932.55 685.04,937.19 685.80,936.60 C686.56,936.01 688.36,929.20 689.20,929.20 C690.04,929.20 691.49,930.11 692.50,936.60 C693.51,943.09 696.04,984.89 697.30,981.10 C698.56,977.31 701.17,909.84 702.60,906.30 C704.03,902.76 707.51,948.59 708.70,952.80 C709.89,957.01 711.09,938.99 712.10,940.00 C713.11,941.01 715.79,963.17 716.80,960.90 C717.81,958.62 719.53,926.44 720.20,921.80 C720.88,917.16 721.28,916.89 722.20,923.80 C723.12,930.71 726.21,978.36 727.60,977.10 C728.99,975.84 732.12,917.15 733.30,913.70 C734.47,910.25 736.02,947.05 737.00,949.50 C737.98,951.95 739.83,934.74 741.10,933.30 C742.38,931.86 745.60,934.46 747.20,938.00 C748.80,941.54 752.39,964.89 753.90,961.60 C755.41,958.31 758.04,912.21 759.30,911.70 C760.56,911.19 762.56,953.71 764.00,957.50 C765.44,961.29 769.54,943.34 770.80,942.00 C772.06,940.66 773.10,950.16 774.10,946.80 C775.10,943.44 777.56,913.34 778.80,915.10 C780.04,916.86 782.67,958.89 784.00,960.90 C785.33,962.91 788.19,929.85 789.40,931.20 C790.61,932.55 792.58,975.74 793.70,971.70 C794.83,967.66 797.44,901.67 798.40,898.90 C799.36,896.12 801.02,943.17 801.40,949.50" fill="none" stroke="#656565" stroke-width="1.75" stroke-linejoin="round"/>
<rect x="764" y="1034.5" width="198" height="25.5" fill="#e4e4e4" opacity="0.8"/>
<rect x="764" y="1060" width="198" height="2" fill="#a8a8a8"/>
<text x="784.20" y="1048.4" font-size="11" fill="#3a3a3a" text-anchor="middle">150</text>
<text x="859.80" y="1048.4" font-size="11" fill="#3a3a3a" text-anchor="middle">200</text>
<text x="935.40" y="1048.4" font-size="11" fill="#3a3a3a" text-anchor="middle">250</text>
<text x="779" y="1052.5" font-size="20.5" fill="#95c08c" stroke="#8db585" stroke-width="0.4" opacity="0.85" textLength="165" lengthAdjust="spacingAndGlyphs">www.cntronics.com</text>
</svg>
</body></html>
